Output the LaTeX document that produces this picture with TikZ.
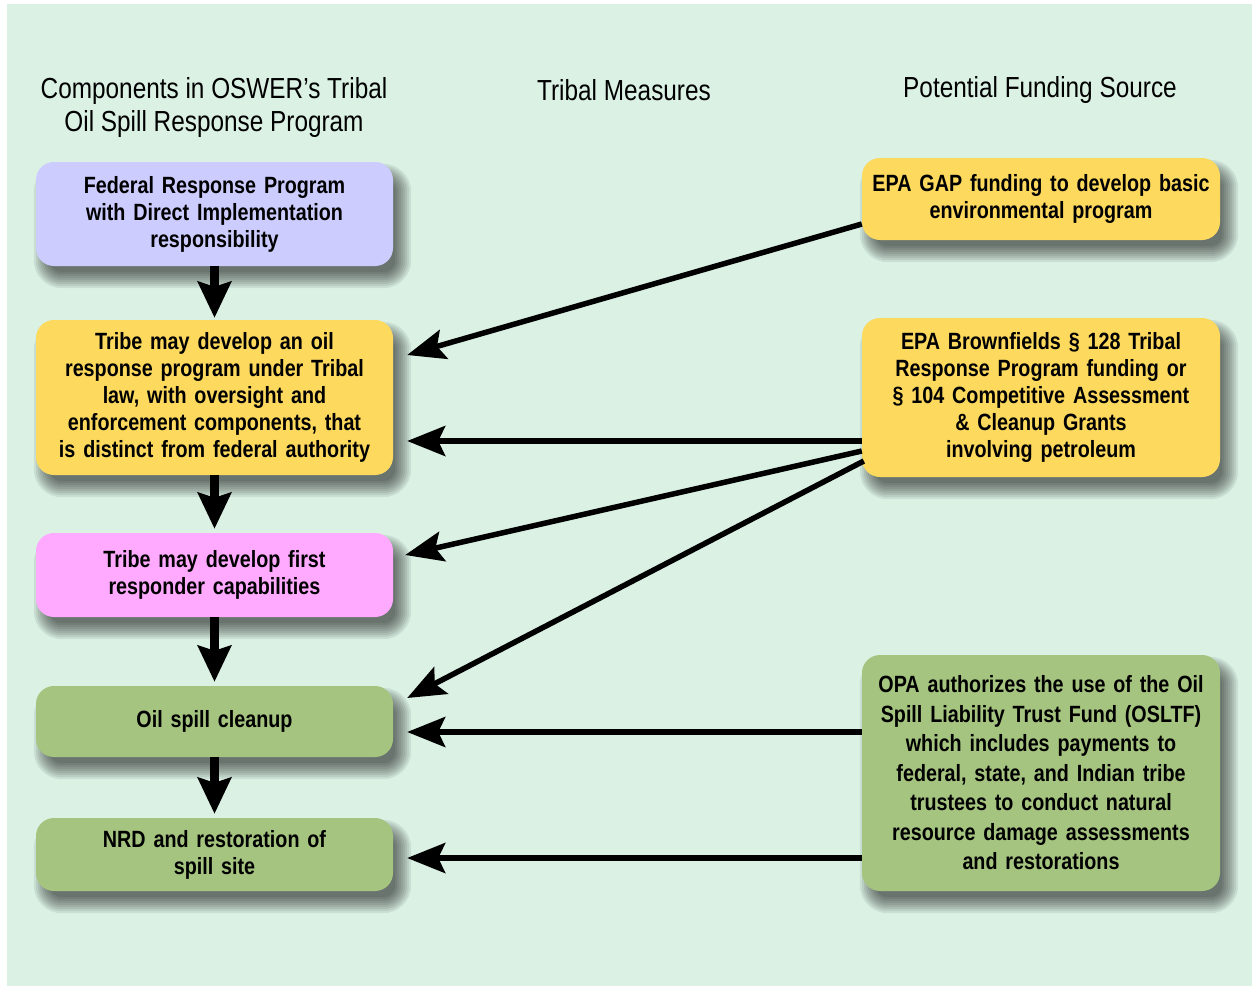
\documentclass[tikz,border=0pt]{standalone}
\usepackage{fontspec}
\setmainfont{Liberation Sans}[FakeStretch=0.84]
\usetikzlibrary{arrows.meta,backgrounds}
\definecolor{mint}{HTML}{DAF1E4}
\definecolor{lav}{HTML}{CCCCFF}
\definecolor{gold}{HTML}{FDD95E}
\definecolor{pinkb}{HTML}{FFAAFF}
\definecolor{sage}{HTML}{A5C47F}
\tikzset{
  box/.style={rounded corners=18pt, minimum height=#1, text width=345pt, align=center,
    inner sep=0pt, font=\fontsize{23.5}{27}\selectfont\bfseries},
  lbox/.style={box=#1, minimum width=357pt},
  rbox/.style={box=#1, minimum width=358pt},
  head/.style={align=center, font=\fontsize{29}{33}\selectfont},
  shadowlayer/.style={fill=black, fill opacity=0.075},
  varr/.style={line width=9pt, -{Stealth[length=36pt, width=33pt, inset=5pt]}},
  harr/.style={line width=5.5pt, -{Stealth[length=38pt, width=30pt, inset=7pt]}},
}
\begin{document}
\begin{tikzpicture}[x=1pt,y=-1pt]
\useasboundingbox (0,0) rectangle (1252,986);

\node[head] (h1) at (214,107) {Components in OSWER's Tribal\\Oil Spill Response Program};
\node[head] (h2) at (624,90) {Tribal Measures};
\node[head] (h3) at (1040,90) {Potential Funding Source};

\node[lbox=104pt, fill=lav] (b1) at (214.5,214) {Federal Response Program\\with Direct Implementation\\responsibility};
\node[lbox=155pt, fill=gold] (b2) at (214.5,397.5) {Tribe may develop an oil\\response program under Tribal\\law, with oversight and\\enforcement components, that\\is distinct from federal authority};
\node[lbox=84pt, fill=pinkb] (b3) at (214.5,575) {Tribe may develop first\\responder capabilities};
\node[lbox=71pt, fill=sage] (b4) at (214.5,721.5) {Oil spill cleanup};
\node[lbox=73pt, fill=sage] (b5) at (214.5,854.5) {NRD and restoration of\\spill site};

\node[rbox=82pt, fill=gold] (r1) at (1041,199) {EPA GAP funding to develop basic\\environmental program};
\node[rbox=159pt, fill=gold] (r2) at (1041,397.5) {EPA Brownfields \S\ 128 Tribal\\Response Program funding or\\\S\ 104 Competitive Assessment\\\& Cleanup Grants\\involving petroleum};
\node[rbox=236pt, fill=sage, font=\fontsize{23.5}{29.5}\selectfont\bfseries] (r3) at (1041,773) {OPA authorizes the use of the Oil\\Spill Liability Trust Fund (OSLTF)\\which includes payments to\\federal, state, and Indian tribe\\trustees to conduct natural\\resource damage assessments\\and restorations};

\begin{scope}[on background layer]
  \fill[white] (0,0) rectangle (1252,986);
  \fill[mint] (7,4) rectangle (1252,986);
  \foreach \n in {b1,b2,b3,b4,b5,r1,r2,r3}{
    \foreach \k in {-6,-4,...,10}{
      \fill[shadowlayer, rounded corners={18pt+\k pt}]
        ([xshift=8pt-\k pt, yshift=-12pt+\k pt]\n.north west) rectangle
        ([xshift=8pt+\k pt, yshift=-12pt-\k pt]\n.south east);
    }
  }
\end{scope}

\draw[varr, shorten >=2pt] (b1) -- (b2);
\draw[varr, shorten >=4pt] (b2) -- (b3);
\draw[varr, shorten >=4pt] (b3) -- (b4);
\draw[varr, shorten >=4pt] (b4) -- (b5);

\draw[harr] ([yshift=-25pt]r1.west) -- ([xshift=14pt,yshift=42.5pt]b2.east);
\draw[harr] ([yshift=-43.5pt]r2.west) -- ([xshift=14pt,yshift=-43.5pt]b2.east);
\draw[harr] ([yshift=-53.5pt]r2.west) -- ([xshift=12pt,yshift=20pt]b3.east);
\draw[harr] ([xshift=2pt,yshift=-63.5pt]r2.west) -- ([xshift=14pt,yshift=23.5pt]b4.east);
\draw[harr] ([yshift=41pt]r3.west) -- ([xshift=14pt,yshift=-10.5pt]b4.east);
\draw[harr] ([yshift=-85pt]r3.west) -- ([xshift=14pt,yshift=-3.5pt]b5.east);
\end{tikzpicture}
\end{document}
